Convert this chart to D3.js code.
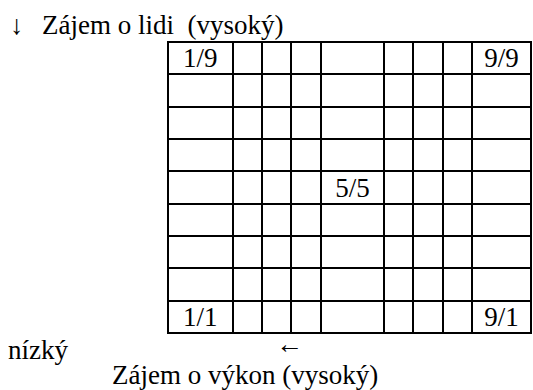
<!DOCTYPE html>
<html lang="cs">
<head>
    <meta charset="UTF-8">
    <script src="https://d3js.org/d3.v7.min.js"></script>
    <style>
        body { margin: 0; background: #fff; }
    </style>
    <title>Manažerská mřížka</title>
</head>
<body>
    <script type="text/javascript">
    // data
    const levels = [1, 2, 3, 4, 5, 6, 7, 8, 9];          // úrovně na obou osách
    const cellLabels = ["1/9", "9/9", "5/5", "1/1", "9/1"];
    const labelPerf = [1, 9, 5, 1, 9];                   // zájem o výkon (x)
    const labelPeople = [9, 9, 5, 1, 1];                 // zájem o lidi (y)
    const titleTop = "Zájem o lidi\u00a0\u00a0(vysoký)";
    const titleBottom = "Zájem o výkon (vysoký)";
    const lowLabel = "nízký";

    // rozvržení - sloupce nejsou stejně široké
    const w = 533, h = 390;
    const colSpan = [2.2, 1, 1, 1, 2.15, 1, 1, 1, 2];
    const edges = [0].concat(Array.from(d3.cumsum(colSpan)));

    const edgeX = d3.scaleLinear([0, d3.sum(colSpan)], [168, 531]);
    const scaleY = d3.scaleBand(levels.slice().reverse(), [42, 333]);

    const colLeft = function(l) { return edgeX(edges[l - 1]); };
    const colRight = function(l) { return edgeX(edges[l]); };

    const svg = d3.select("body")
        .append("svg")
        .attr("width", w)
        .attr("height", h)
        .attr("font-family", "'Liberation Serif', 'DejaVu Serif', serif")
        .attr("font-size", 27)
        .attr("fill", "#000");

    const grid = svg.append("g")
        .attr("stroke", "#000")
        .attr("stroke-width", 2)
        .attr("shape-rendering", "crispEdges");

    // svislé čáry
    grid.selectAll("line.v")
        .data(edges)
        .enter()
        .append("line")
        .attr("class", "v")
        .attr("x1", function(d) { return Math.round(edgeX(d)); })
        .attr("x2", function(d) { return Math.round(edgeX(d)); })
        .attr("y1", scaleY.range()[0] - 1)
        .attr("y2", scaleY.range()[1] + 1);

    // vodorovné čáry
    const rowEdges = levels.map(function(l) { return scaleY(l); }).concat([scaleY.range()[1]]);
    grid.selectAll("line.h")
        .data(rowEdges)
        .enter()
        .append("line")
        .attr("class", "h")
        .attr("x1", edgeX.range()[0] - 1)
        .attr("x2", edgeX.range()[1] + 1)
        .attr("y1", function(d) { return Math.round(d); })
        .attr("y2", function(d) { return Math.round(d); });

    // popisky buněk
    svg.selectAll("text.cell")
        .data(cellLabels)
        .enter()
        .append("text")
        .attr("class", "cell")
        .attr("text-anchor", "middle")
        .attr("x", function(d, i) { return (colLeft(labelPerf[i]) + colRight(labelPerf[i])) / 2; })
        .attr("y", function(d, i) { return scaleY(labelPeople[i]) + scaleY.bandwidth() / 2 + 9; })
        .text(function(d) { return d; });

    // osy
    svg.append("text").attr("x", 10).attr("y", 34).text("↓");
    svg.append("text").attr("x", 42).attr("y", 34).text(titleTop);
    svg.append("text").attr("x", 8).attr("y", 359).text(lowLabel);
    svg.append("text").attr("x", 276).attr("y", 353).text("←");
    svg.append("text").attr("x", 112).attr("y", 384).text(titleBottom);
    </script>
</body>
</html>
